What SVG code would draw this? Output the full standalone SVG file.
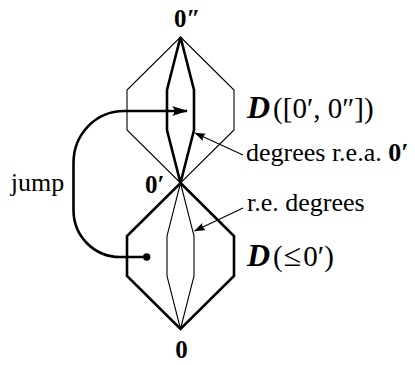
<svg xmlns="http://www.w3.org/2000/svg" width="415" height="365" viewBox="0 0 415 365">
<defs>
<style>
.thin{fill:none;stroke:#000;stroke-width:1.1;stroke-linejoin:miter}
.thick{fill:none;stroke:#000;stroke-width:2.6;stroke-linejoin:miter}
text{font-family:"Liberation Serif","DejaVu Serif",serif;fill:#000}
.lbl{font-size:26px}
.pt{font-size:25px;font-weight:bold}
.big{font-size:29px}
.b{font-weight:bold}
.cal{font-weight:bold;font-style:italic;font-size:32px}
.rel{font-size:32px}
</style>
<marker id="bigHead" viewBox="0 0 16 10" refX="15" refY="5" markerWidth="16" markerHeight="10" markerUnits="userSpaceOnUse" orient="auto">
<path d="M0,0 Q5,5 0,10 L16,5 Z" fill="#000"/>
</marker>
<marker id="smallHead" viewBox="0 0 11 8" refX="10.5" refY="4" markerWidth="11" markerHeight="8" markerUnits="userSpaceOnUse" orient="auto">
<path d="M0,0 Q3,4 0,8 L11,4 Z" fill="#000"/>
</marker>
</defs>
<rect width="415" height="365" fill="#fff"/>
<g id="upper-interval">
<polygon class="thin" points="180.5,37 234,90 234,130 180.5,183 127,130 127,90"/>
<polygon class="thick" points="180.5,37 194,90 194,130 180.5,183 167,130 167,90"/>
</g>
<g id="lower-cone">
<polygon class="thick" points="180.5,183 234,236 234,276 180.5,329 127,276 127,236"/>
<polygon class="thin" points="180.5,183 194,236 194,276 180.5,329 167,276 167,236"/>
</g>
<g id="connectors">
<path class="thick" d="M146.7,257 H120 C94,257 73.5,236 73.5,210 V163 C73.5,134 96,111 124,111 H187" marker-end="url(#bigHead)"/>
<circle cx="146.7" cy="257" r="3.7" fill="#000"/>
<line class="thin" x1="243" y1="155" x2="195" y2="133" marker-end="url(#smallHead)"/>
<line class="thin" x1="243" y1="208" x2="194.5" y2="231" marker-end="url(#smallHead)"/>
</g>
<g id="labels">
<text class="pt" x="174" y="27">0″</text>
<text class="pt" x="145" y="193">0′</text>
<text class="pt" x="181.5" y="358" text-anchor="middle">0</text>
<text class="lbl" x="37.5" y="191" text-anchor="middle">jump</text>
<text class="big" x="247" y="118"><tspan class="cal">D</tspan><tspan dx="3">([0′, 0″])</tspan></text>
<text class="lbl" x="246" y="161">degrees r.e.a. <tspan class="b">0′</tspan></text>
<text class="lbl" x="247" y="211">r.e. degrees</text>
<text class="big" x="247" y="266"><tspan class="cal">D</tspan><tspan dx="3">(</tspan><tspan class="rel" dx="1">≤</tspan><tspan dx="2">0′)</tspan></text>
</g>
</svg>
